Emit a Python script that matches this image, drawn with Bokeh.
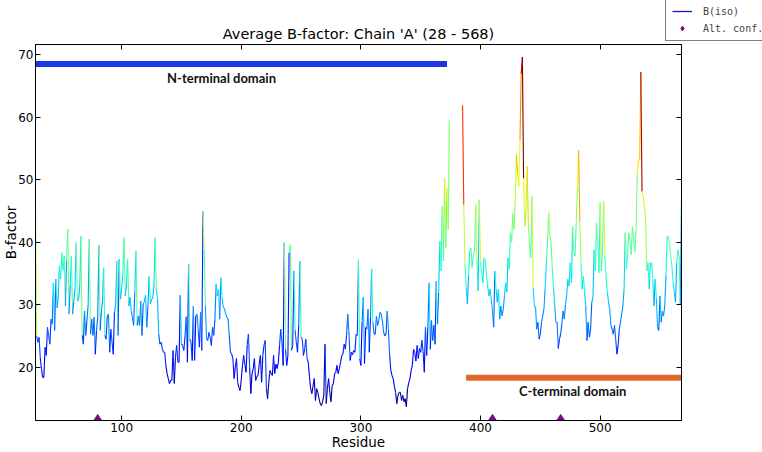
import numpy as np
from bokeh.plotting import figure
from bokeh.layouts import column
from bokeh.models import (ColumnDataSource, Range1d, LinearAxis, FixedTicker, Label,
                          Legend, LegendItem, LinearColorMapper)
from bokeh.transform import transform
from bokeh.embed import file_html
from bokeh.resources import INLINE

# ---------------- data ----------------
N_START = 28   # first residue of the N-terminal stretch
N_BFACTOR = [
    45.8, 25.0, 24.0, 24.8, 21.5, 19.8, 18.4, 18.4, 23.2, 21.9,
    26.4, 25.1, 23.7, 27.7, 26.9, 33.5, 25.9, 34.1, 29.5, 31.4,
    36.2, 34.1, 38.3, 35.5, 37.8, 29.8, 37.0, 42.1, 28.5, 33.0,
    37.8, 28.5, 30.5, 32.6, 39.9, 30.6, 30.9, 33.0, 41.0, 25.1,
    23.7, 29.0, 25.1, 27.4, 30.0, 40.5, 25.3, 27.7, 25.1, 28.0,
    22.1, 25.9, 28.0, 39.5, 25.9, 28.8, 30.5, 35.9, 25.1, 24.5,
    28.2, 28.5, 22.4, 26.1, 24.0, 22.1, 28.8, 30.0, 37.0, 25.1,
    37.3, 30.9, 32.5, 35.0, 40.7, 31.4, 33.0, 37.3, 29.8, 31.2,
    29.0, 28.0, 26.7, 32.0, 38.6, 26.7, 28.2, 26.7, 30.6, 25.1,
    30.1, 30.5, 31.5, 26.4, 29.8, 34.5, 30.1, 30.9, 31.0, 33.0,
    40.7, 32.5, 30.9, 25.3, 23.7, 24.0, 23.0, 22.4, 22.4, 20.3,
    19.0, 18.2, 17.4, 17.9, 17.9, 22.7, 17.4, 21.6, 23.5, 20.8,
    20.8, 31.5, 23.7, 23.5, 22.7, 25.0, 28.1, 20.8, 36.5, 24.5,
    24.0, 21.1, 29.8, 21.1, 28.2, 28.5, 26.0, 23.2, 28.8, 22.7,
    44.9, 38.8, 29.8, 24.5, 24.3, 25.6, 24.8, 23.5, 26.4, 25.1,
    27.7, 33.3, 31.4, 32.5, 27.7, 34.3, 31.0, 29.7, 29.3, 28.5,
    28.0, 27.7, 25.0, 22.4, 22.1, 21.4, 18.2, 20.0, 21.4, 17.6,
    16.8, 16.3, 18.0, 20.3, 21.9, 20.5, 19.2, 23.7, 25.3, 20.0,
    15.8, 19.0, 19.8, 21.4, 17.9, 18.5, 18.7, 20.5, 21.9, 17.6,
    21.9, 23.5, 24.3, 16.6, 15.0, 17.6, 19.5, 19.0, 18.7, 21.9,
    19.0, 20.5, 19.8, 20.8, 23.5, 26.1, 24.0, 20.3, 39.9, 22.9,
    20.3, 21.9, 38.3, 39.6, 22.7, 23.5, 35.4, 25.9, 24.0, 22.4,
    26.7, 37.0, 24.8, 24.5, 21.9, 23.0, 24.5, 21.4, 20.8, 18.5,
    16.6, 15.8, 17.0, 18.2, 14.7, 16.6, 16.0, 15.0, 14.2, 13.9,
    14.5, 15.5, 23.7, 14.2, 16.6, 18.2, 16.0, 14.5, 17.1, 17.4,
    19.0, 19.2, 20.3, 19.0, 19.8, 20.8, 21.9, 22.1, 23.7, 22.9,
    25.1, 28.5, 25.6, 21.1, 22.4, 22.0, 22.7, 22.4, 25.3, 25.1,
    37.2, 21.4, 20.3, 27.2, 31.2, 20.6, 26.4, 26.1, 29.3, 22.4,
    28.0, 35.7, 27.2, 25.3, 25.3, 28.2, 26.7, 27.5, 28.8, 28.5,
    27.4, 25.6, 25.0, 25.3, 29.0, 26.1, 22.0, 19.5, 18.7, 18.2,
    17.0, 16.0, 14.2, 15.5, 16.0, 16.0, 14.7, 15.5, 14.5, 15.0,
    13.7, 16.6, 17.5, 18.2, 19.5, 20.3, 22.9, 22.4, 21.0, 23.5,
    21.4, 23.0, 22.4, 24.3, 22.5, 19.2, 26.4, 21.9, 26.4, 33.5,
    22.9, 27.5, 24.3, 26.7, 23.7, 33.8, 26.9, 31.9, 40.2, 35.4,
    45.7, 37.0, 50.2, 39.1, 48.6, 42.0, 59.5,
]
C_START = 385  # first residue of the C-terminal stretch
C_BFACTOR = [
    61.9, 46.0, 36.5, 32.8, 30.1, 34.6, 38.6, 39.1, 36.0, 38.0,
    38.6, 46.0, 37.0, 32.2, 46.8, 36.8, 35.0, 33.5, 37.5, 37.2,
    34.6, 33.0, 31.4, 32.5, 30.9, 29.0, 26.4, 35.4, 32.5, 30.4,
    32.5, 27.7, 29.8, 28.2, 29.3, 31.4, 33.5, 32.0, 37.5, 35.7,
    41.5, 40.0, 44.7, 42.0, 46.3, 53.9, 51.0, 48.9, 56.3, 66.9,
    69.6, 50.2, 42.5, 45.0, 52.1, 42.5, 39.4, 37.5, 47.3, 32.6,
    29.8, 29.6, 26.1, 27.2, 24.5, 25.3, 27.2, 28.2, 29.3, 32.5,
    36.7, 39.9, 44.7, 41.0, 39.9, 35.7, 32.8, 29.8, 27.2, 27.2,
    23.0, 24.5, 25.3, 27.0, 29.0, 27.7, 30.0, 31.4, 34.1, 33.0,
    36.7, 33.5, 42.5, 38.3, 37.8, 43.1, 48.9, 54.7, 43.3, 36.7,
    32.5, 34.6, 32.0, 29.8, 24.3, 27.2, 24.8, 26.1, 30.4, 31.2,
    38.8, 35.4, 43.1, 40.0, 35.1, 46.3, 35.4, 39.4, 46.5, 37.8,
    34.6, 32.0, 30.5, 29.3, 26.7, 26.1, 25.3, 26.7, 24.5, 22.1,
    23.5, 26.1, 27.2, 28.5, 29.8, 32.5, 41.5, 35.7, 38.0, 41.5,
    40.2, 38.0, 42.5, 40.4, 38.5, 42.0, 51.0, 53.1, 53.2, 67.2,
    48.1, 47.3, 45.7, 43.6, 35.4, 36.7, 32.5, 36.7, 36.7, 34.0,
    29.8, 34.1, 31.0, 26.4, 25.9, 31.4, 27.2, 29.0, 28.2, 29.8,
    34.6, 40.9, 41.0, 39.4, 37.8, 36.2, 33.5, 32.0, 30.4, 36.7,
    38.8, 37.8, 30.0, 47.0,
]
ALT_CONF_RESIDUES = [80, 410, 467]

DOMAIN_NAMES = ["N-terminal domain", "C-terminal domain"]
DOMAIN_FIRST = [28, 388]
DOMAIN_LAST = [372, 568]
DOMAIN_LEVEL = [68.5, 18.35]
DOMAIN_COLORS = ["#1c36e4", "#e2692c"]

X_TICKS = [100, 200, 300, 400, 500]
Y_TICKS = [20, 30, 40, 50, 60, 70]
CHAIN_FIRST, CHAIN_LAST = 28, 568
TITLE = "Average B-factor: Chain 'A' (28 - 568)"

# ---------------- jet colour map ----------------
t = np.linspace(0, 1, 256)
r = np.interp(t, [0, 0.35, 0.66, 0.89, 1], [0, 0, 1, 1, 0.5])
g = np.interp(t, [0, 0.125, 0.375, 0.64, 0.91, 1], [0, 0, 1, 1, 0, 0])
b = np.interp(t, [0, 0.11, 0.34, 0.65, 1], [0.5, 1, 1, 0, 0])
JET = ["#%02x%02x%02x" % (int(round(255 * a)), int(round(255 * c)), int(round(255 * d)))
       for a, c, d in zip(r, g, b)]

# ---------------- segments (coloured by starting value) ----------------
x0, y0, x1, y1 = [], [], [], []
for start, vals in ((N_START, N_BFACTOR), (C_START, C_BFACTOR)):
    for i in range(len(vals) - 1):
        x0.append(start + i)
        y0.append(vals[i])
        x1.append(start + i + 1)
        y1.append(vals[i + 1])
seg_src = ColumnDataSource(dict(x0=x0, y0=y0, x1=x1, y1=y1))
n_res = [N_START + i for i in range(len(N_BFACTOR))]

all_vals = N_BFACTOR + C_BFACTOR
lo, hi = min(all_vals), max(all_vals)
Y_LO, Y_HI = lo - 2.2, hi + 2.0

W = 762
HDR_H = 43
MAIN_H = 452 - HDR_H

# ---------------- header: title + legend ----------------
hdr = figure(width=W, height=HDR_H, x_axis_type=None, y_axis_type=None, title=None,
             toolbar_location=None, output_backend="svg", min_border=0,
             x_range=Range1d(CHAIN_FIRST, CHAIN_LAST), y_range=Range1d(0, 1))
hdr.frame_align = False
hdr.outline_line_color = None
hdr.background_fill_color = "white"
hdr.border_fill_color = "white"

# legend proxies (hidden; only their legend glyphs are shown)
biso = hdr.line(x=n_res, y=N_BFACTOR, line_color="#1414c8", line_width=1.3, visible=False)
alt_leg = hdr.scatter(x=ALT_CONF_RESIDUES, y=ALT_CONF_RESIDUES, marker="diamond", size=12,
                      fill_color="#7d0a82", line_color="#7d0a82", visible=False)
legend = Legend(items=[LegendItem(label="B(iso)", renderers=[biso]),
                       LegendItem(label="Alt. conf.", renderers=[alt_leg])],
                location=(665, 2), orientation="vertical",
                label_text_font="DejaVu Sans Mono", label_text_font_size="10px",
                glyph_width=20, glyph_height=12, label_height=12, label_standoff=11,
                padding=6, spacing=5, margin=0, border_line_color="black",
                border_line_width=1, background_fill_color="white", background_fill_alpha=1,
                inactive_fill_alpha=0)
hdr.add_layout(legend)
hdr.add_layout(Label(x=358, y=10, x_units="screen", y_units="screen", text=TITLE,
                     text_font="DejaVu Sans", text_font_size="14.5px",
                     text_align="center", text_baseline="middle", text_color="black"))

# ---------------- main plot ----------------
p = figure(width=W, height=MAIN_H, output_backend="svg", toolbar_location=None, title=None,
           x_range=Range1d(CHAIN_FIRST, CHAIN_LAST), y_range=Range1d(Y_LO, Y_HI),
           min_border_left=35, min_border_right=81, min_border_top=1, min_border_bottom=30)
p.frame_align = False
p.xgrid.visible = False
p.ygrid.visible = False
p.outline_line_color = "black"
p.outline_line_width = 1
p.background_fill_color = "white"
p.border_fill_color = "white"

for ax, ticks in ((p.xaxis[0], X_TICKS), (p.yaxis[0], Y_TICKS)):
    ax.ticker = FixedTicker(ticks=ticks)
    ax.major_tick_in = 5
    ax.major_tick_out = 0
    ax.minor_tick_in = 0
    ax.minor_tick_out = 0
    ax.axis_line_color = "black"
    ax.major_tick_line_color = "black"
    ax.major_label_text_font = "DejaVu Sans"
    ax.major_label_text_font_size = "12px"
    ax.major_label_text_color = "black"
    ax.axis_label_text_font = "DejaVu Sans"
    ax.axis_label_text_font_size = "13.5px"
    ax.axis_label_text_font_style = "normal"
    ax.axis_label_text_color = "black"
p.xaxis[0].axis_label = "Residue"
p.xaxis[0].major_label_standoff = 2
p.xaxis[0].axis_label_standoff = -1
p.yaxis[0].axis_label = "B-factor"
p.yaxis[0].major_label_standoff = 2
p.yaxis[0].axis_label_standoff = -4

for side, ticks in (("above", X_TICKS), ("right", Y_TICKS)):
    ax = LinearAxis(ticker=FixedTicker(ticks=ticks), major_tick_in=5, major_tick_out=0,
                    minor_tick_in=0, minor_tick_out=0, major_label_text_font_size="1px",
                    major_label_text_color=None, major_label_standoff=0,
                    axis_line_color="black", major_tick_line_color="black")
    p.add_layout(ax, side)

# coloured B-factor trace
mapper = LinearColorMapper(palette=JET, low=lo, high=hi)
p.segment("x0", "y0", "x1", "y1", source=seg_src, line_color=transform("y0", mapper),
          line_width=1.1)

# domain bars
dom_src = ColumnDataSource(dict(first=DOMAIN_FIRST, last=DOMAIN_LAST, level=DOMAIN_LEVEL,
                                color=DOMAIN_COLORS, name=DOMAIN_NAMES))
p.segment(x0="first", y0="level", x1="last", y1="level", source=dom_src,
          line_color="color", line_width=6, line_cap="butt")

# domain labels
for txt, lx, ly in ((DOMAIN_NAMES[0], 183.5, 66.2), (DOMAIN_NAMES[1], 477, 16.2)):
    p.add_layout(Label(x=lx, y=ly, text=txt, text_font="Lato", text_font_style="bold",
                       text_font_size="13px", text_align="center", text_baseline="middle",
                       text_color="#111111"))

# alt. conf. markers on the lower axis
p.scatter(x=ALT_CONF_RESIDUES, y=[Y_LO] * len(ALT_CONF_RESIDUES), marker="diamond",
          size=12, fill_color="#7d0a82", line_color="#7d0a82")

layout = column(hdr, p, spacing=0)
open("out.html", "w").write(file_html(layout, INLINE))
